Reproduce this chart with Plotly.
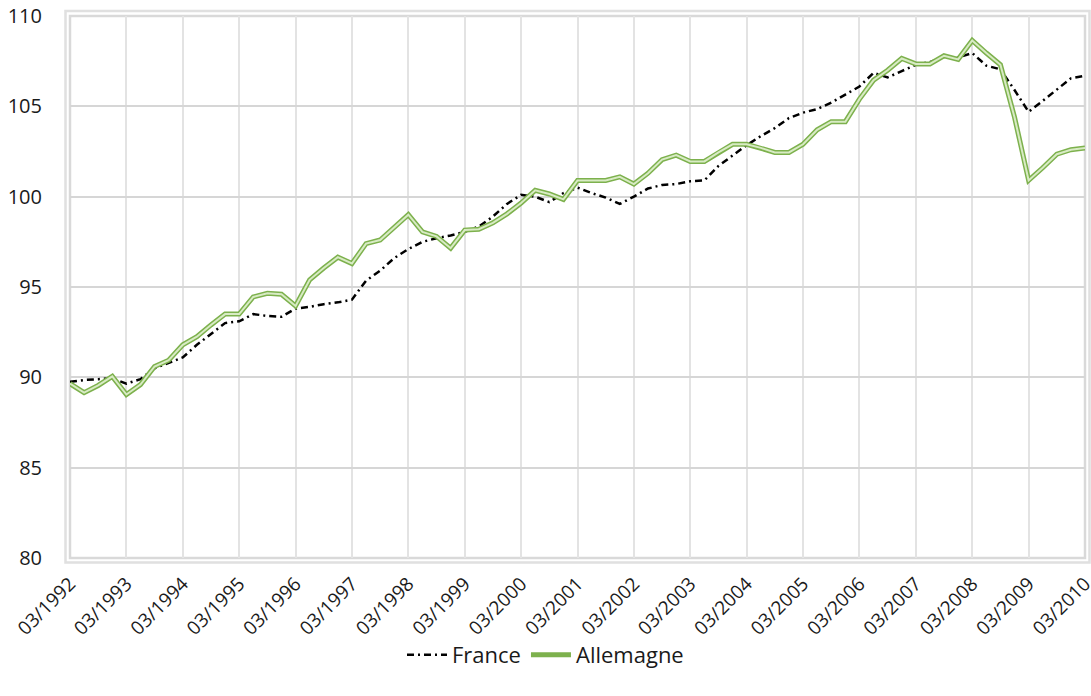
import plotly.graph_objects as go

years = list(range(1992, 2011))
quarter_months = ["03", "06", "09", "12"]
quarters = [f"{m}/{y}" for y in years for m in quarter_months][:73]
year_ticks = [f"03/{y}" for y in years]

france = [89.75, 89.85, 89.9, 89.95, 89.65, 89.9, 90.5, 90.8, 91.1, 91.8,
          92.4, 93.0, 93.1, 93.5, 93.4, 93.35, 93.8, 93.9, 94.05, 94.15,
          94.3, 95.35, 95.9, 96.6, 97.1, 97.5, 97.7, 97.85, 98.05, 98.35,
          98.9, 99.6, 100.1, 100.0, 99.7, 100.2, 100.5, 100.2, 99.95, 99.6,
          100.0, 100.45, 100.65, 100.7, 100.85, 100.9, 101.7, 102.3, 102.85, 103.35,
          103.8, 104.35, 104.65, 104.85, 105.2, 105.65, 106.1, 106.85, 106.6, 106.95,
          107.3, 107.45, 107.75, 107.7, 107.95, 107.25, 107.05, 105.9, 104.7, 105.3,
          105.9, 106.55, 106.7]

allemagne = [89.65, 89.15, 89.55, 90.05, 89.05, 89.6, 90.6, 90.95, 91.8, 92.25,
             92.9, 93.5, 93.5, 94.45, 94.65, 94.6, 93.95, 95.4, 96.05, 96.65,
             96.3, 97.4, 97.6, 98.3, 99.0, 98.05, 97.8, 97.15, 98.15, 98.2,
             98.55, 99.05, 99.65, 100.35, 100.15, 99.85, 100.9, 100.9, 100.9, 101.1,
             100.7, 101.3, 102.05, 102.3, 101.95, 101.95, 102.45, 102.9, 102.9, 102.7,
             102.45, 102.45, 102.9, 103.7, 104.15, 104.15, 105.4, 106.45, 107.0, 107.65,
             107.35, 107.35, 107.8, 107.6, 108.65, 107.95, 107.3, 104.4, 100.9, 101.6,
             102.35, 102.6, 102.7]

y_ticks = [80, 85, 90, 95, 100, 105, 110]

FONT = "Open Sans"
TXT = "#1a1a1a"

fig = go.Figure()
fig.add_trace(go.Scatter(
    x=quarters, y=france, name="France", mode="lines",
    line=dict(color="black", width=2.5, dash="7px,4px,2px,4px"),
))
fig.add_trace(go.Scatter(
    x=quarters, y=allemagne, name="Allemagne", mode="lines",
    line=dict(color="#7db14d", width=5),
))
fig.add_trace(go.Scatter(
    x=quarters, y=allemagne, name="Allemagne", mode="lines", showlegend=False,
    line=dict(color="#d8ebc4", width=2), hoverinfo="skip",
))

W, H = 1091, 696
L, R, T, B = 70, 6, 16, 138
pw = W - L - R
ph = H - T - B

fig.update_layout(
    width=W, height=H,
    margin=dict(l=L, r=R, t=T, b=B, autoexpand=False),
    paper_bgcolor="white", plot_bgcolor="white",
    font=dict(family=FONT, color=TXT, size=18),
    showlegend=True,
    legend=dict(orientation="h", xref="container", yref="container",
                x=0.5, xanchor="center", y=0.059, yanchor="middle",
                font=dict(size=22, family=FONT, color=TXT),
                itemwidth=40, tracegroupgap=0),
    xaxis=dict(
        type="category", categoryorder="array", categoryarray=quarters,
        range=[0, len(quarters) - 1], automargin=False,
        tickmode="array", tickvals=year_ticks, ticktext=year_ticks,
        tickangle=-45, tickfont=dict(size=19, family=FONT, color=TXT),
        ticklabelstandoff=10,
        showgrid=True, gridcolor="#e3e3e3", gridwidth=2,
        showline=False, zeroline=False, ticks="",
    ),
    yaxis=dict(
        range=[80, 110], tickmode="array", tickvals=y_ticks, automargin=False,
        tickfont=dict(size=20, family=FONT, color=TXT),
        showgrid=True, gridcolor="#d6d6d6", gridwidth=2,
        showline=False, zeroline=False, ticks="", ticklabelstandoff=27,
    ),
    shapes=[
        dict(type="rect", xref="paper", yref="paper", x0=0, x1=1, y0=0, y1=1,
             line=dict(color="#d9d9d9", width=2.5), layer="below"),
        dict(type="rect", xref="paper", yref="paper",
             x0=-4.5 / pw, x1=1 + 4.5 / pw, y0=-4.5 / ph, y1=1 + 5 / ph,
             line=dict(color="#e0e0e0", width=2.5), layer="below"),
    ],
)

fig.write_html(
    "out.html",
    config={"displayModeBar": False},
    post_script="document.body.style.margin='0';document.body.style.overflow='hidden';",
)
